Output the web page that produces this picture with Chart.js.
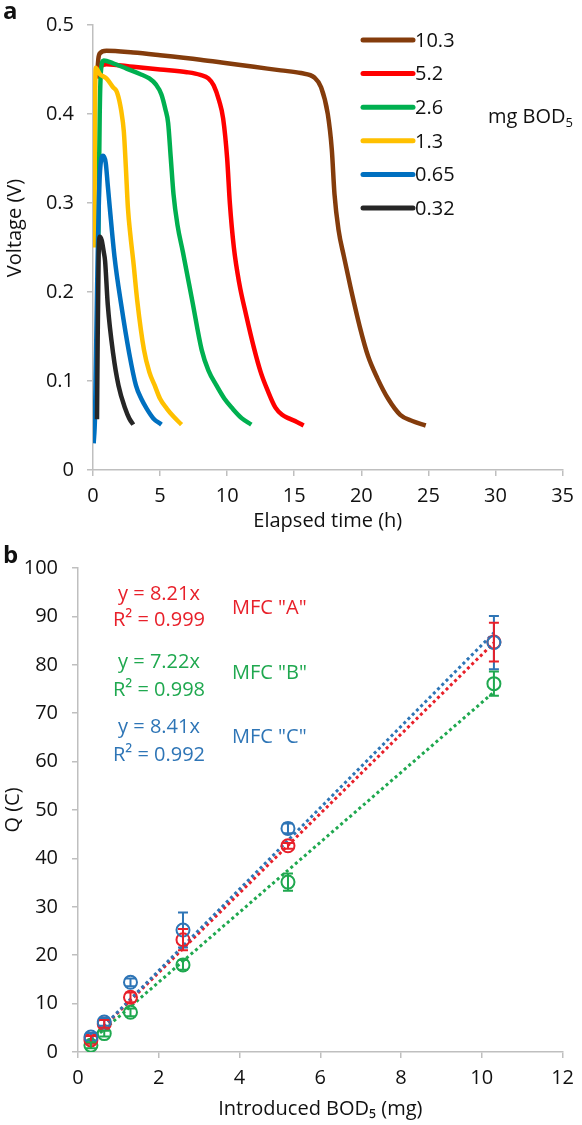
<!DOCTYPE html>
<html>
<head>
<meta charset="utf-8">
<script src="https://cdn.jsdelivr.net/npm/chart.js@4.4.0/dist/chart.umd.min.js"></script>
<style>
  body { margin: 0; background: #fff; }
  .box { position: absolute; left: 0; width: 582px; }
  #boxA { top: 0; height: 540px; }
  #boxB { top: 540px; height: 585px; }
</style>
</head>
<body>
<div class="box" id="boxA"><canvas id="voltChart"></canvas></div>
<div class="box" id="boxB"><canvas id="chargeChart"></canvas></div>
<script>
var FONT = "'Open Sans', 'DejaVu Sans', sans-serif";
var FS = 20;
var AXIS = '#BFBFBF';

// ---- panel a : voltage vs elapsed time ----
var doseLabels = ['10.3', '5.2', '2.6', '1.3', '0.65', '0.32'];
var doseColors = ['#843C0C', '#FF0000', '#00B050', '#FFC000', '#0070C0', '#262626'];

var t103 = [0.3, 0.4, 0.5, 1, 3, 5, 8, 10, 12, 14, 15.5, 16.5, 17.0, 17.5, 17.8, 18.0, 18.3, 18.7, 19.2, 19.9, 20.5, 21.2, 22.0, 22.9, 23.8, 24.8];
var v103 = [0.44, 0.462, 0.468, 0.471, 0.469, 0.466, 0.461, 0.457, 0.453, 0.449, 0.446, 0.441, 0.43, 0.40, 0.36, 0.31, 0.27, 0.24, 0.205, 0.16, 0.128, 0.103, 0.08, 0.062, 0.055, 0.05];

var t52 = [0.45, 0.55, 1, 3, 5, 7, 8, 8.6, 9.0, 9.4, 9.7, 10.0, 10.2, 10.5, 10.9, 11.4, 12.0, 12.5, 13.0, 13.6, 14.1, 14.6, 15.2, 15.7];
var v52 = [0.44, 0.453, 0.456, 0.453, 0.45, 0.447, 0.444, 0.44, 0.432, 0.415, 0.395, 0.35, 0.30, 0.25, 0.21, 0.175, 0.137, 0.11, 0.09, 0.07, 0.062, 0.058, 0.054, 0.05];

var t26 = [0.4, 0.5, 0.6, 0.8, 1.5, 2.5, 3.5, 4.2, 4.7, 5.1, 5.4, 5.6, 5.8, 6.0, 6.3, 6.7, 7.4, 8.1, 8.6, 9.2, 9.8, 10.4, 11.1, 11.8];
var v26 = [0.26, 0.40, 0.45, 0.46, 0.457, 0.451, 0.445, 0.44, 0.433, 0.422, 0.405, 0.39, 0.35, 0.31, 0.275, 0.245, 0.19, 0.135, 0.112, 0.095, 0.08, 0.069, 0.058, 0.051];

var t13 = [0.1, 0.15, 0.2, 0.5, 1.0, 1.5, 1.8, 2.1, 2.3, 2.45, 2.6, 2.8, 3.0, 3.3, 3.8, 4.2, 4.6, 5.0, 5.5, 6.0, 6.6];
var v13 = [0.25, 0.4, 0.452, 0.445, 0.44, 0.43, 0.424, 0.404, 0.38, 0.34, 0.295, 0.262, 0.235, 0.19, 0.135, 0.11, 0.095, 0.08, 0.069, 0.06, 0.051];

var t065 = [0.05, 0.15, 0.3, 0.5, 0.75, 0.95, 1.1, 1.25, 1.6, 2.1, 2.7, 3.2, 3.6, 4.0, 4.5, 5.1];
var v065 = [0.03, 0.06, 0.2, 0.33, 0.353, 0.345, 0.32, 0.295, 0.24, 0.186, 0.131, 0.095, 0.08, 0.069, 0.058, 0.051];

var t032 = [0.3, 0.35, 0.42, 0.5, 0.65, 0.8, 0.9, 1.1, 1.5, 1.9, 2.4, 2.7, 3.0];
var v032 = [0.057, 0.15, 0.24, 0.262, 0.258, 0.245, 0.235, 0.186, 0.131, 0.095, 0.069, 0.058, 0.051];

// ---- panel b : charge vs introduced BOD5 ----
var bodX = [0.32, 0.65, 1.3, 2.6, 5.2, 10.3];
var qA = [2.5, 5.8, 11.3, 23.2, 42.6, 84.7];
var errA = [0.8, 0.8, 1.0, 2.2, 0.6, 4.0];
var qB = [1.4, 3.8, 8.2, 18.0, 35.1, 76.1];
var errB = [0.6, 0.6, 0.8, 1.0, 1.8, 2.5];
var qC = [3.1, 6.2, 14.4, 25.2, 46.2, 84.6];
var errC = [0.8, 0.8, 0.8, 3.6, 1.0, 5.5];
var trendX = [0.32, 10.3];
var trendA = [2.63, 84.56];
var trendB = [2.31, 74.37];
var trendC = [2.69, 86.62];
var mfcColors = { A: '#E8202A', B: '#1FA84F', C: '#2E75B6' };

function pts(xs, ys) {
  return xs.map(function(x, i) { return { x: x, y: ys[i] }; });
}

function axisOpts(min, max, step, tickPad, title) {
  return {
    type: 'linear', min: min, max: max,
    ticks: { stepSize: step, padding: tickPad, color: '#111', font: { size: FS, family: FONT } },
    grid: { drawOnChartArea: false, color: AXIS, tickLength: 6, lineWidth: 1.5 },
    border: { color: AXIS, width: 1.5 },
    title: title
  };
}

var voltLegend = {
  id: 'voltLegend',
  afterDraw: function(chart) {
    var ctx = chart.ctx;
    ctx.save();
    ctx.textBaseline = 'middle';
    chart.data.datasets.forEach(function(ds, i) {
      var y = 40 + i * 33.6;
      ctx.strokeStyle = ds.borderColor;
      ctx.lineWidth = 5;
      ctx.lineCap = 'round';
      ctx.beginPath(); ctx.moveTo(363, y); ctx.lineTo(413, y); ctx.stroke();
      ctx.fillStyle = '#111';
      ctx.font = FS + 'px ' + FONT;
      ctx.textAlign = 'left';
      ctx.fillText(ds.label, 415, y + 1);
    });
    ctx.font = FS + 'px ' + FONT;
    ctx.fillText('mg BOD', 488, 117);
    var w = ctx.measureText('mg BOD').width;
    ctx.font = '13px ' + FONT;
    ctx.fillText('5', 488 + w, 123);
    // y axis title
    ctx.save();
    ctx.translate(15, 228);
    ctx.rotate(-Math.PI / 2);
    ctx.textAlign = 'center';
    ctx.font = FS + 'px ' + FONT;
    ctx.fillText('Voltage (V)', 0, 0);
    ctx.restore();
    ctx.font = 'bold 24px ' + FONT;
    ctx.textAlign = 'left';
    ctx.fillText('a', 3, 12);
    ctx.restore();
  }
};

var ySetsA = [v103, v52, v26, v13, v065, v032];
var xSetsA = [t103, t52, t26, t13, t065, t032];

new Chart(document.getElementById('voltChart'), {
  type: 'line',
  data: {
    datasets: doseLabels.map(function(lab, i) {
      return {
        label: lab,
        data: pts(xSetsA[i], ySetsA[i]),
        borderColor: doseColors[i],
        borderWidth: 4.5,
        pointRadius: 0,
        cubicInterpolationMode: 'monotone',
        order: doseLabels.length - i
      };
    })
  },
  options: {
    responsive: true,
    maintainAspectRatio: false,
    animation: false,
    layout: { padding: { top: 12, right: 16, left: 0, bottom: 0 } },
    plugins: { legend: { display: false }, tooltip: { enabled: false } },
    scales: {
      x: Object.assign(axisOpts(0, 35, 5, 8, {
        display: true, text: 'Elapsed time (h)', color: '#111',
        font: { size: FS, family: FONT }, padding: { top: 0, bottom: 7 }
      }), { afterFit: function(s) { s.height = 70; } }),
      y: Object.assign(axisOpts(0, 0.5, 0.1, 13, { display: false }),
        { afterFit: function(s) { s.width = 93; } })
    }
  },
  plugins: [voltLegend]
});

var chargeExtras = {
  id: 'chargeExtras',
  afterDatasetsDraw: function(chart) {
    var ctx = chart.ctx, xs = chart.scales.x, ys = chart.scales.y;
    ctx.save();
    chart.data.datasets.forEach(function(ds) {
      if (!ds.errors) return;
      ctx.strokeStyle = ds.borderColor;
      ctx.lineWidth = 2;
      ds.data.forEach(function(p, i) {
        var px = xs.getPixelForValue(p.x);
        var top = ys.getPixelForValue(p.y + ds.errors[i]);
        var bot = ys.getPixelForValue(p.y - ds.errors[i]);
        ctx.beginPath();
        ctx.moveTo(px, top); ctx.lineTo(px, bot);
        ctx.moveTo(px - 5, top); ctx.lineTo(px + 5, top);
        ctx.moveTo(px - 5, bot); ctx.lineTo(px + 5, bot);
        ctx.stroke();
      });
    });
    ctx.restore();
  },
  afterDraw: function(chart) {
    var ctx = chart.ctx;
    ctx.save();
    ctx.textBaseline = 'middle';
    ctx.font = FS + 'px ' + FONT;
    var notes = [
      ['y = 8.21x', 'R\u00B2 = 0.999', 'MFC "A"', mfcColors.A, 54, 80, 68],
      ['y = 7.22x', 'R\u00B2 = 0.998', 'MFC "B"', mfcColors.B, 122, 150, 133],
      ['y = 8.41x', 'R\u00B2 = 0.992', 'MFC "C"', mfcColors.C, 187, 215, 197]
    ];
    notes.forEach(function(n) {
      ctx.fillStyle = n[3];
      ctx.textAlign = 'center';
      ctx.fillText(n[0], 159, n[4]);
      ctx.fillText(n[1], 159, n[5]);
      ctx.textAlign = 'left';
      ctx.fillText(n[2], 232, n[6]);
    });
    ctx.fillStyle = '#111';
    ctx.font = 'bold 24px ' + FONT;
    ctx.fillText('b', 3, 16);
    ctx.restore();
  }
};

function scatterSet(label, ys, errs, color, order) {
  return {
    type: 'scatter', label: label, data: pts(bodX, ys), errors: errs,
    borderColor: color, backgroundColor: 'rgba(255,255,255,0)',
    pointRadius: 6.5, borderWidth: 2, order: order
  };
}
function trendSet(label, ys, color, order) {
  return {
    type: 'line', label: label, data: pts(trendX, ys),
    borderColor: color, borderWidth: 3, borderDash: [3, 3],
    pointRadius: 0, fill: false, order: order
  };
}

new Chart(document.getElementById('chargeChart'), {
  type: 'scatter',
  data: {
    datasets: [
      scatterSet('MFC "C"', qC, errC, mfcColors.C, 0),
      scatterSet('MFC "A"', qA, errA, mfcColors.A, 1),
      scatterSet('MFC "B"', qB, errB, mfcColors.B, 2),
      trendSet('trend C', trendC, mfcColors.C, 3),
      trendSet('trend A', trendA, mfcColors.A, 4),
      trendSet('trend B', trendB, mfcColors.B, 5)
    ]
  },
  options: {
    responsive: true,
    maintainAspectRatio: false,
    animation: false,
    layout: { padding: { top: 28, right: 18, left: 0, bottom: 0 } },
    plugins: { legend: { display: false }, tooltip: { enabled: false } },
    scales: {
      x: Object.assign(axisOpts(0, 12, 2, 8, {
        display: true, text: 'Introduced BOD\u2085 (mg)', color: '#111',
        font: { size: FS, family: FONT }, padding: { top: 0, bottom: 4 }
      }), { afterFit: function(s) { s.height = 73; } }),
      y: Object.assign(axisOpts(0, 100, 10, 14, {
        display: true, text: 'Q (C)', color: '#111',
        font: { size: FS, family: FONT }, padding: { top: 1, bottom: 0 }
      }), { afterFit: function(s) { s.width = 78; } })
    }
  },
  plugins: [chargeExtras]
});
</script>
</body>
</html>
